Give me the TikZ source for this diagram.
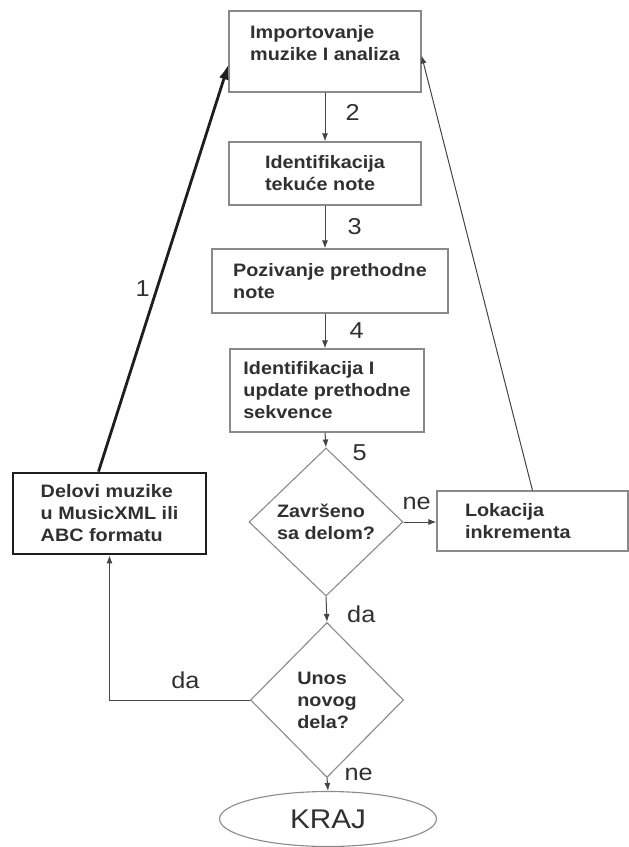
\documentclass[tikz,border=0pt]{standalone}
\usepackage{fontspec}
\setmainfont[FakeStretch=1.1]{Liberation Sans}
\usepackage{xcolor}
\usepackage{tikz}
\usetikzlibrary{arrows.meta,positioning,calc,shapes.geometric}
\definecolor{Ink}{HTML}{303030}
\definecolor{Frame}{HTML}{8A8A8A}
\definecolor{Wire}{HTML}{444444}
\definecolor{Heavy}{HTML}{1E1E1E}

\begin{document}
\begin{tikzpicture}[x=1pt,y=-1pt,>={Latex[length=8pt,width=6pt]}]
\tikzset{flowbox/.style={draw=Frame,line width=1.1pt,text=Ink,align=left,inner sep=0pt,font=\bfseries\fontsize{18}{22}\selectfont}, choice/.style={diamond,draw=Frame,line width=1.1pt,text=Ink,align=left,inner sep=0pt,font=\bfseries\fontsize{18}{22}\selectfont}, arrow/.style={->,line width=1pt,Wire}, tag/.style={text=Ink,inner sep=2pt,font=\fontsize{23}{23}\selectfont}}
\useasboundingbox (0,0) rectangle (629,847);
\node[flowbox,minimum width=192pt,minimum height=81pt] (imp) at (325,51.5) {Importovanje\\muzike I analiza\\[-4pt]\mbox{}};
\node[flowbox,minimum width=192pt,minimum height=63pt] (ident) at (325,173.5) {Identifikacija\\tekuće note};
\node[flowbox,minimum width=236pt,minimum height=64pt] (poz) at (330,281) {Pozivanje prethodne\\note};
\node[flowbox,minimum width=194pt,minimum height=83pt] (seq) at (327,390.5) {Identifikacija I\\update prethodne\\sekvence};
\node[choice,minimum width=154pt,minimum height=148pt] (done) at (326,522) {Završeno\\sa delom?};
\node[flowbox,minimum width=191pt,minimum height=60pt,text width=135pt] (lok) at (532.5,521) {Lokacija\\inkrementa};
\node[flowbox,draw=Heavy,line width=2.8pt,minimum width=193pt,minimum height=81pt] (delovi) at (109.5,513.5) {Delovi muzike\\u MusicXML ili\\ABC formatu};
\node[choice,minimum width=153pt,minimum height=155pt] (more) at (327,700) {Unos\\novog\\dela?};
\node[ellipse,draw=Frame,line width=1.1pt,text=Ink,inner sep=0pt,minimum width=217pt,minimum height=55pt,font=\fontsize{27}{27}\selectfont] (kraj) at (328,819) {KRAJ};
\draw[arrow] (imp.south) -- node[tag,pos=0.4,right=18pt] {2} (ident.north);
\draw[arrow] (ident.south) -- node[tag,pos=0.5,right=20pt] {3} (ident.south |- poz.north);
\draw[arrow] (ident.south |- poz.south) -- node[tag,pos=0.5,right=22pt] {4} (ident.south |- seq.north);
\draw[arrow] (ident.south |- seq.south) -- node[tag,pos=1,anchor=west,xshift=24pt,yshift=-5pt] {5} (done.north);
\draw[arrow] (done.east) -- node[tag,pos=0.4,above=10pt] {ne} (done.east -| lok.west);
\draw[arrow] (lok.north) -- ([yshift=-4pt]imp.east);
\draw[->,line width=2.8pt,Heavy,>={Latex[length=15pt,width=10pt]}] ([xshift=-11pt]delovi.north) -- node[tag,pos=0.45,left=4pt] {1} ([yshift=-13pt]imp.west);
\draw[arrow] (done.south) -- node[tag,pos=0.7,right=18pt] {da} (more.north);
\draw[arrow] (more.west) -| node[tag,pos=0.23,above=9pt] {da} (delovi.south);
\draw[arrow] (more.south) -- node[tag,pos=0,anchor=west,xshift=15pt,yshift=4pt] {ne} (kraj.north);
\end{tikzpicture}
\end{document}
